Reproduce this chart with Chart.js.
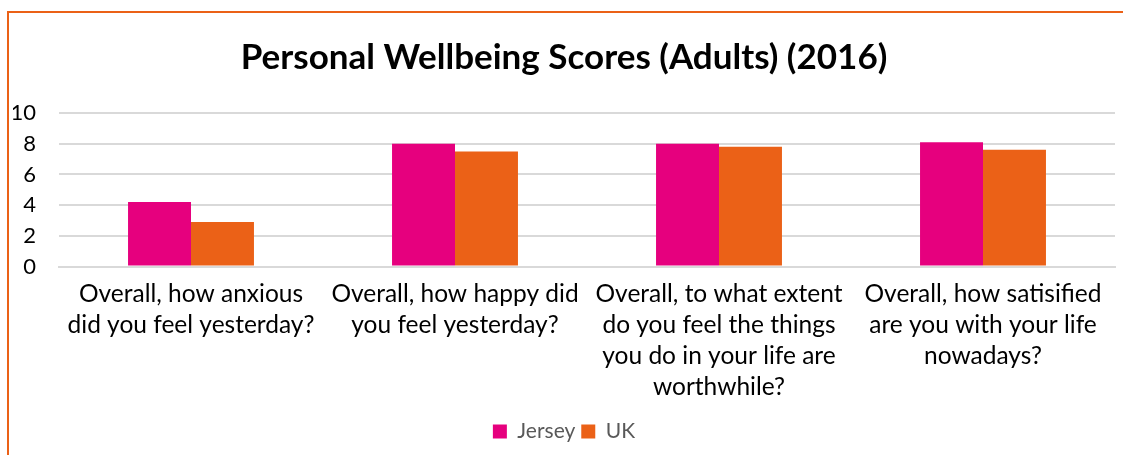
<!doctype html>
<html lang="en">
<head>
    <meta charset="utf-8">
    <title>Personal Wellbeing Scores (Adults) (2016)</title>
    <style>
        body { margin: 0; background: #fff; overflow: hidden; }
        .frame {
            position: absolute; left: 7px; top: 11px;
            width: 1116px; height: 444px;
            border-left: 2px solid #EB6117; border-top: 2px solid #EB6117;
        }
        #myChart { position: absolute; left: 0; top: 0; }
    </style>
</head>
<body>
    <div class="frame"></div>
    <canvas id="myChart" width="1123" height="455"></canvas>

    <script src="https://cdn.jsdelivr.net/npm/chart.js"></script>
    <script>
        // setup
        const categories = [
            ['Overall, how anxious', 'did you feel yesterday?'],
            ['Overall, how happy did', 'you feel yesterday?'],
            ['Overall, to what extent', 'do you feel the things', 'you do in your life are', 'worthwhile?'],
            ['Overall, how satisified', 'are you with your life', 'nowadays?']
        ];
        const jersey = [4.2, 8.0, 8.0, 8.1];
        const uk = [2.9, 7.5, 7.8, 7.6];
        const yTicks = [0, 2, 4, 6, 8, 10];

        const font = 'Lato, Carlito, Calibri, "Noto Sans", sans-serif';
        Chart.defaults.font.family = font;

        const data = {
            labels: categories,
            datasets: [{
                label: 'Jersey',
                data: jersey,
                backgroundColor: '#E6007E',
                borderWidth: 0
            }, {
                label: 'UK',
                data: uk,
                backgroundColor: '#EB6117',
                borderWidth: 0
            }]
        };

        const config = {
            type: 'bar',
            data,
            options: {
                responsive: false,
                animation: false,
                layout: { padding: { left: 13, right: 8, top: 37, bottom: 3 } },
                datasets: { bar: { barPercentage: 1, categoryPercentage: 0.477 } },
                plugins: {
                    title: {
                        display: true,
                        text: 'Personal Wellbeing Scores (Adults) (2016)',
                        color: '#000',
                        font: { size: 35, weight: 'bold' },
                        padding: { top: 0, bottom: 34 }
                    },
                    legend: {
                        position: 'bottom',
                        labels: {
                            color: '#595959',
                            font: { size: 21 },
                            boxWidth: 14,
                            boxHeight: 14,
                            padding: 6
                        }
                    },
                    tooltip: { enabled: false }
                },
                scales: {
                    x: {
                        grid: { display: false, drawTicks: false },
                        border: { color: '#d9d9d9', width: 2 },
                        // keep the plot area from being pushed in by the wide first label
                        afterFit: (scale) => { scale.paddingLeft = 0; scale.paddingRight = 0; },
                        ticks: {
                            color: '#000',
                            font: { size: 24.5, lineHeight: 1.27 },
                            maxRotation: 0,
                            autoSkip: false,
                            padding: 12
                        }
                    },
                    y: {
                        min: 0,
                        max: 10,
                        afterBuildTicks: (axis) => { axis.ticks = yTicks.map(v => ({ value: v })); },
                        afterFit: (scale) => { scale.width = 46; },
                        grid: { color: '#d9d9d9', lineWidth: 2, drawTicks: false },
                        border: { display: false },
                        ticks: {
                            color: '#000',
                            font: { size: 22 },
                            padding: 23
                        }
                    }
                }
            }
        };

        const myChart = new Chart(document.getElementById('myChart'), config);
    </script>
</body>
</html>
